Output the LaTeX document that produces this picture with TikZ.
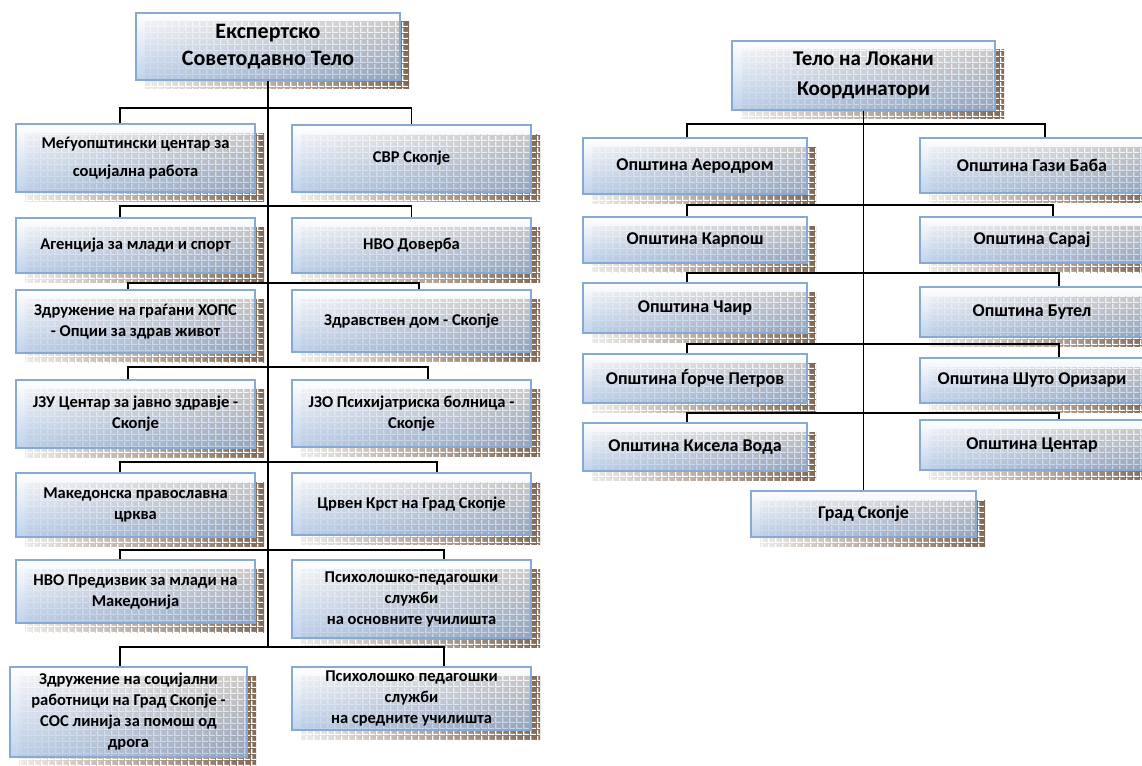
\documentclass[tikz,border=0pt]{standalone}
\usepackage{fontspec}
\setmainfont{Carlito}
\usetikzlibrary{patterns.meta}

\definecolor{boxline}{RGB}{135,170,212}
\definecolor{boxblue}{RGB}{160,188,226}
\definecolor{shlight}{RGB}{236,234,232}
\definecolor{shdark}{RGB}{128,106,86}

\tikzdeclarepattern{
  name=cells,
  type=uncolored,
  bottom left={(0pt,0pt)},
  top right={(6.5pt,6pt)},
  tile size={(6.5pt,6pt)},
  code={\fill (0pt,0pt) rectangle (1.5pt,6pt); \fill (0pt,0pt) rectangle (6.5pt,1.2pt);}
}

\begin{document}
\begin{tikzpicture}[x=1pt, y=-1pt,
	bx/.style={draw=boxline, line width=1.2pt, top color=white, bottom color=boxblue, fill opacity=.66, text opacity=1, align=center, inner sep=2pt,
		preaction={draw=none, fill opacity=1, left color=shlight, right color=shdark, transform canvas={shift={(9pt,-9pt)}}},
		preaction={draw=none, fill opacity=1, pattern=cells, pattern color=white, transform canvas={shift={(9pt,-9pt)}}}},
	hd/.style={bx, font=\fontsize{22}{27}\selectfont\bfseries},
	sm/.style={bx, minimum width=239pt, font=\fontsize{16.5}{21}\selectfont\bfseries},
	md/.style={bx, minimum width=224pt, font=\fontsize{18}{22}\selectfont\bfseries},
	ln/.style={line width=1.6pt, black}]
	\useasboundingbox (0,0) rectangle (1142,765);
	\clip (0,0) rectangle (1142,765);

	% left chart
	\node[hd, minimum width=264pt, minimum height=67pt] (hdA) at (268,46.5) {Експертско\\Советодавно Тело};
	\node[sm, minimum height=68pt] (a1) at (135.5,158) {Меѓуопштински центар за\\[7pt]социјална работа};
	\node[sm, minimum height=67pt] (b1) at (411.5,158.5) {СВР Скопје};
	\node[sm, minimum height=55pt] (a2) at (135.5,245.5) {Агенција за млади и спорт};
	\node[sm, minimum height=55pt] (b2) at (411.5,245.5) {НВО Доверба};
	\node[sm, minimum height=63pt] (a3) at (135.5,321.5) {Здружение на граѓани ХОПС\\- Опции за здрав живот};
	\node[sm, minimum height=62pt] (b3) at (411.5,321) {Здравствен дом - Скопје};
	\node[sm, minimum height=68pt] (a4) at (135.5,414) {ЈЗУ Центар за јавно здравје -\\Скопје};
	\node[sm, minimum height=67pt] (b4) at (411.5,413.5) {ЈЗО Психијатриска болница -\\Скопје};
	\node[sm, minimum height=64pt] (a5) at (135.5,505) {Македонска православна\\црква};
	\node[sm, minimum height=62pt] (b5) at (411.5,504) {Црвен Крст на Град Скопје};
	\node[sm, minimum height=63pt] (a6) at (135.5,591.5) {НВО Предизвик за млади на\\Македонија};
	\node[sm, minimum height=78pt] (b6) at (411.5,599) {Психолошко-педагошки\\служби\\на основните училишта};
	\node[sm, minimum width=237pt, minimum height=90pt] (a7) at (128.5,712) {Здружение на социјални\\работници на Град Скопје -\\СОС линија за помош од\\дрога};
	\node[sm, minimum height=63pt] (b7) at (411.5,698.5) {Психолошко педагошки\\служби\\на средните училишта};

	\coordinate (j1) at (268,108);
	\coordinate (j2) at (268,206);
	\coordinate (j3) at (268,283);
	\coordinate (j4) at (268,367);
	\coordinate (j5) at (268,462);
	\coordinate (j6) at (268,550);
	\coordinate (j7) at (268,647);

	\draw[ln] (hdA.south) -- (j7);
	\draw[ln] ([xshift=-15.5pt]a1.north) |- (j1) -| (b1.north);
	\draw[ln] ([xshift=-15.5pt]a2.north) |- (j2) -| (b2.north);
	\draw[ln] ([xshift=-7.5pt]a3.north) |- (j3) -| ([xshift=7.5pt]b3.north);
	\draw[ln] ([xshift=-7.5pt]a4.north) |- (j4) -| ([xshift=16.5pt]b4.north);
	\draw[ln] ([xshift=-15.5pt]a5.north) |- (j5) -| ([xshift=25.5pt]b5.north);
	\draw[ln] ([xshift=-15.5pt]a6.north) |- (j6) -| ([xshift=32.5pt]b6.north);
	\draw[ln] ([xshift=-8.5pt]a7.north) |- (j7) -| ([xshift=32.5pt]b7.north);

	% right chart
	\node[hd, minimum width=263pt, minimum height=69pt, font=\fontsize{21}{30}\selectfont\bfseries] (hdB) at (863.5,75.5) {Тело на Локани\\Координатори};
	\node[md, minimum height=56pt] (c1) at (695,166) {Општина Аеродром};
	\node[md, minimum height=55pt] (d1) at (1032,165.5) {Општина Гази Баба};
	\node[md, minimum height=46pt] (c2) at (695,240) {Општина Карпош};
	\node[md, minimum height=46pt] (d2) at (1032,240) {Општина Сарај};
	\node[md, minimum height=50pt] (c3) at (695,308) {Општина Чаир};
	\node[md, minimum height=50pt] (d3) at (1032,312) {Општина Бутел};
	\node[md, minimum height=49pt] (c4) at (695,378.5) {Општина Ѓорче Петров};
	\node[md, minimum height=45pt] (d4) at (1032,380.5) {Општина Шуто Оризари};
	\node[md, minimum height=48pt] (c5) at (695,447) {Општина Кисела Вода};
	\node[md, minimum height=50pt] (d5) at (1032,445) {Општина Центар};
	\node[md, minimum width=225pt, minimum height=46pt] (grad) at (863.5,514) {Град Скопје};

	\coordinate (k1) at (864,124);
	\coordinate (k2) at (864,205);
	\coordinate (k3) at (864,273);
	\coordinate (k4) at (864,344);
	\coordinate (k5) at (864,413);

	\draw[ln] (hdB.south) -- (grad.north);
	\draw[ln] ([xshift=-8pt]c1.north) |- (k1) -| ([xshift=13pt]d1.north);
	\draw[ln] ([xshift=-8pt]c2.north) |- (k2) -| ([xshift=21pt]d2.north);
	\draw[ln] ([xshift=-8pt]c3.north) |- (k3) -| ([xshift=27pt]d3.north);
	\draw[ln] ([xshift=-8pt]c4.north) |- (k4) -| ([xshift=27pt]d4.north);
	\draw[ln] ([xshift=-8pt]c5.north) |- (k5) -| ([xshift=27pt]d5.north);
\end{tikzpicture}
\end{document}
